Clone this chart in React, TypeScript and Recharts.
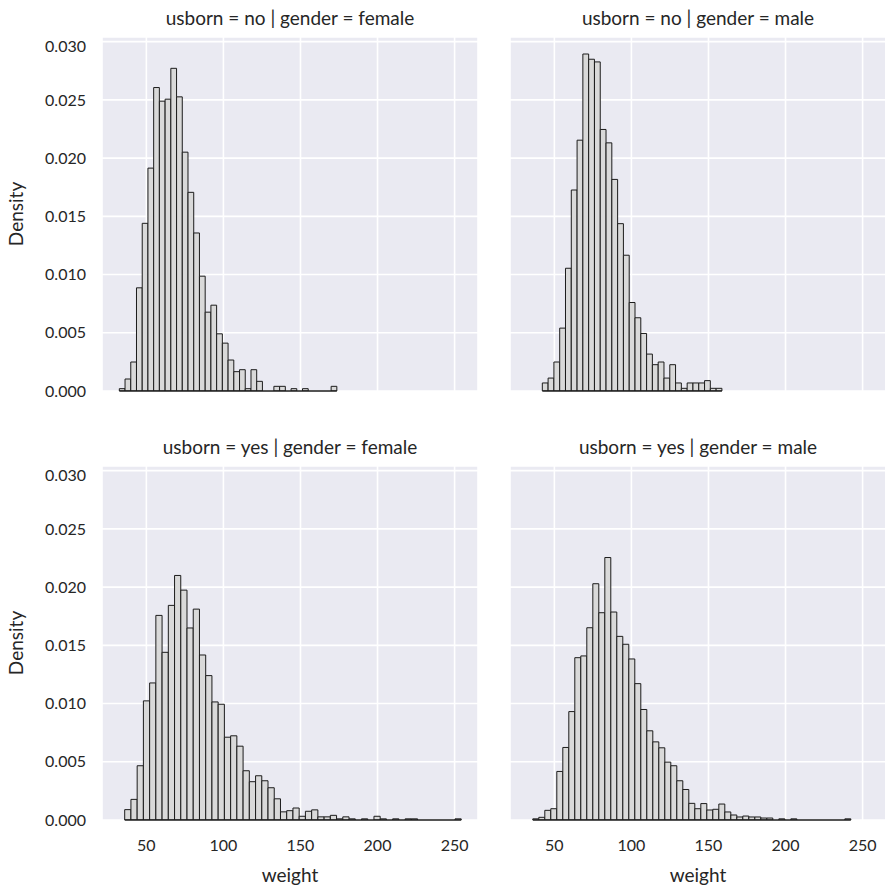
import { Bar, BarChart, CartesianGrid, ReferenceLine, XAxis, YAxis } from 'recharts';

// shared axes
const X_DOMAIN = [21.2, 265.2];
const X_TICKS = [50, 100, 150, 200, 250];
const Y_TICKS = [0, 0.005, 0.01, 0.015, 0.02, 0.025, 0.03];
const Y_MAX = 0.0304;

// usborn = no | gender = female
const noFemaleStart = 32.44;
const noFemaleBin = 3.715;
const noFemaleDensity = [
  0.0002, 0.00103, 0.00249, 0.00886, 0.0144, 0.01914, 0.02606, 0.02489, 0.02506, 0.02771,
  0.02526, 0.02051, 0.01706, 0.01357, 0.00986, 0.00677, 0.00737, 0.00491, 0.00411, 0.00266,
  0.00166, 0.00183, 0.0002, 0.00183, 0.00083, 0, 0, 0.0004, 0.0004, 0,
  0.0002, 0, 0.0002, 0, 0, 0, 0, 0.0004,
];

// usborn = no | gender = male
const noMaleStart = 42.17;
const noMaleBin = 3.76;
const noMaleDensity = [
  0.00069, 0.00111, 0.00249, 0.0054, 0.01054, 0.01726, 0.02154, 0.02894, 0.02849, 0.02826,
  0.02246, 0.02131, 0.01817, 0.01437, 0.01166, 0.0076, 0.00629, 0.00494, 0.00317, 0.00226,
  0.00249, 0.00111, 0.00226, 0.00069, 0.00023, 0.00069, 0.00069, 0.00069, 0.00089, 0.00023,
  0.00023,
];

// usborn = yes | gender = female
const yesFemaleStart = 35.93;
const yesFemaleBin = 4.044;
const yesFemaleDensity = [
  0.00089, 0.00177, 0.00466, 0.01023, 0.01177, 0.01757, 0.0144, 0.01843, 0.021, 0.01974,
  0.01649, 0.01811, 0.01417, 0.0124, 0.01014, 0.00994, 0.00711, 0.00723, 0.00634, 0.00423,
  0.00329, 0.0038, 0.00337, 0.00277, 0.00182, 0.0007, 0.0008, 0.00103, 0.00032, 0.00075,
  0.00087, 0.00027, 0.00027, 0.0004, 0.0001, 0.00027, 0.0001, 0, 0.0001, 0,
  0.00032, 0.0001, 0, 0.0001, 0, 0.0001, 0.0001, 0, 0, 0,
  0, 0, 0, 0.0001,
];

// usborn = yes | gender = male
const yesMaleStart = 36.0;
const yesMaleBin = 3.894;
const yesMaleDensity = [
  0.0001, 0.00023, 0.00083, 0.00097, 0.00417, 0.00623, 0.00931, 0.01394, 0.01409, 0.01651,
  0.02029, 0.0178, 0.02254, 0.01786, 0.01577, 0.01509, 0.01383, 0.01171, 0.00949, 0.00766,
  0.00671, 0.0062, 0.00497, 0.00466, 0.00337, 0.00262, 0.00143, 0.00097, 0.00141, 0.00086,
  0.00092, 0.00137, 0.00069, 0.00043, 0.00026, 0.00034, 0.00026, 0.00026, 0.00017, 0.00017,
  0, 0.0001, 0, 0.0001, 0, 0, 0, 0, 0, 0,
  0, 0, 0.0001,
];

const FONT = 'Lato, "Open Sans", sans-serif';
const TEXT = '#262626';
const PLOT_W = 376;
const PLOT_H = 354;
const Y_AXIS_W = 102;
const X_AXIS_H = 68;
const SPARE = 14; // room under the top panels so the 0.000 label is not clipped

interface PanelProps {
  title: string;
  start: number;
  bin: number;
  density: number[];
  left: number;
  top: number;
  showY: boolean;
  showX: boolean;
}

const Panel = ({ title, start, bin, density, left, top, showY, showX }: PanelProps) => {
  const rows = density.map((d, i) => ({ x: start + (i + 0.5) * bin, d }));
  const pxPerUnit = PLOT_W / (X_DOMAIN[1] - X_DOMAIN[0]);
  const barSize = bin * pxPerUnit - 0.02;
  const chartLeft = showY ? left - Y_AXIS_W : left;
  const tickStyle = { fill: TEXT, fontSize: 16, fontFamily: FONT };

  return (
    <>
      <div
        style={{
          position: 'absolute',
          left,
          top: top - 31,
          width: PLOT_W,
          lineHeight: '24px',
          textAlign: 'center',
          fontFamily: FONT,
          fontSize: 19,
          color: TEXT,
          whiteSpace: 'nowrap',
        }}
      >
        {title}
      </div>
      <div style={{ position: 'absolute', left: chartLeft, top }}>
        <BarChart
          width={(showY ? Y_AXIS_W : 0) + PLOT_W}
          height={PLOT_H + (showX ? X_AXIS_H : SPARE)}
          data={rows}
          margin={{ top: 0, right: 0, bottom: showX ? 0 : SPARE, left: 0 }}
          barGap={0}
        >
          <CartesianGrid fill="#eaeaf2" stroke="#ffffff" strokeWidth={1.6} />
          <XAxis
            dataKey="x"
            type="number"
            domain={X_DOMAIN}
            ticks={X_TICKS}
            allowDataOverflow
            hide={!showX}
            height={X_AXIS_H}
            axisLine={false}
            tickLine={false}
            tickSize={0}
            tickMargin={20}
            tick={tickStyle}
            label={{
              value: 'weight',
              position: 'insideBottom',
              offset: 6,
              style: { fill: TEXT, fontSize: 19, fontFamily: FONT },
            }}
          />
          <YAxis
            type="number"
            domain={[0, Y_MAX]}
            ticks={Y_TICKS}
            allowDataOverflow
            hide={!showY}
            width={Y_AXIS_W}
            axisLine={false}
            tickLine={false}
            tickSize={0}
            tickMargin={16}
            tick={tickStyle}
            tickFormatter={(v: number) => v.toFixed(3)}
            label={{
              value: 'Density',
              angle: -90,
              position: 'insideLeft',
              offset: 16,
              style: { fill: TEXT, fontSize: 19, fontFamily: FONT, textAnchor: 'middle' },
            }}
          />
          <Bar
            dataKey="d"
            barSize={barSize}
            fill="#d9d9d9"
            stroke="#1c1c1c"
            strokeWidth={1}
            isAnimationActive={false}
          />
          <ReferenceLine
            segment={[
              { x: start, y: 0 },
              { x: start + density.length * bin, y: 0 },
            ]}
            stroke="#1c1c1c"
            strokeWidth={1.5}
          />
        </BarChart>
      </div>
    </>
  );
};

const App = () => {
  return (
    <div style={{ position: 'absolute', left: 0, top: 0, width: 885, height: 888, background: '#fff', overflow: 'hidden' }}>
      <Panel title="usborn = no | gender = female" start={noFemaleStart} bin={noFemaleBin} density={noFemaleDensity} left={102} top={37} showY showX={false} />
      <Panel title="usborn = no | gender = male" start={noMaleStart} bin={noMaleBin} density={noMaleDensity} left={510} top={37} showY={false} showX={false} />
      <Panel title="usborn = yes | gender = female" start={yesFemaleStart} bin={yesFemaleBin} density={yesFemaleDensity} left={102} top={466} showY showX />
      <Panel title="usborn = yes | gender = male" start={yesMaleStart} bin={yesMaleBin} density={yesMaleDensity} left={510} top={466} showY={false} showX />
    </div>
  );
};

export default App;
